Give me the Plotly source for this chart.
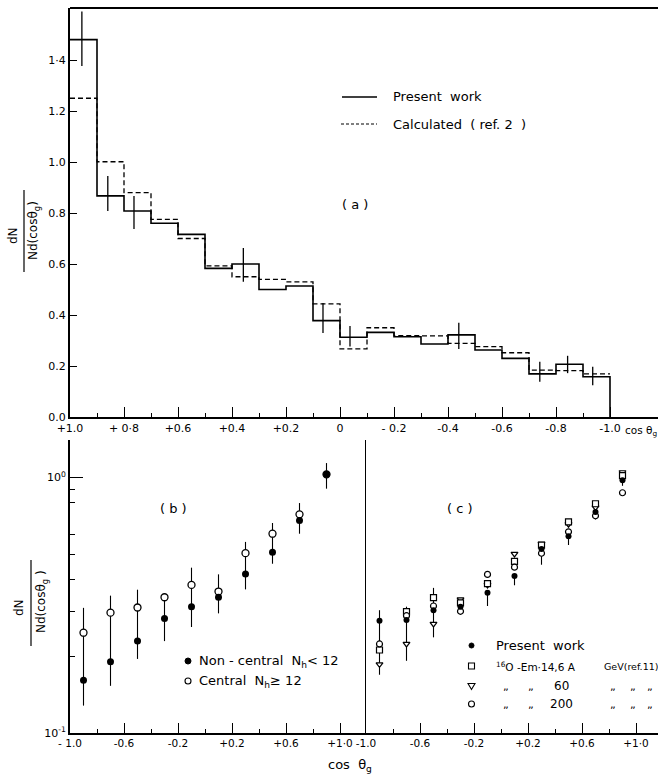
import plotly.graph_objects as go

# ---------------- data ----------------
# panel (a): histogram bin edges (cos theta_g) and values
bin_edges = [1.0, 0.9, 0.8, 0.7, 0.6, 0.5, 0.4, 0.3, 0.2, 0.1, 0.0,
             -0.1, -0.2, -0.3, -0.4, -0.5, -0.6, -0.7, -0.8, -0.9, -1.0]
present_work = [1.48, 0.867, 0.808, 0.76, 0.716, 0.583, 0.60, 0.50, 0.514, 0.378,
                0.313, 0.332, 0.315, 0.286, 0.322, 0.263, 0.23, 0.169, 0.207, 0.158]
calculated = [1.25, 1.001, 0.88, 0.775, 0.70, 0.593, 0.55, 0.54, 0.53, 0.444,
              0.267, 0.35, 0.319, 0.318, 0.289, 0.276, 0.252, 0.184, 0.182, 0.169]
a_err_x = [0.956, 0.86, 0.763, 0.358, 0.063, -0.037, -0.44, -0.74, -0.843, -0.936]
a_err_lo = [1.376, 0.808, 0.737, 0.53, 0.329, 0.276, 0.267, 0.138, 0.172, 0.125]
a_err_hi = [1.59, 0.945, 0.867, 0.663, 0.447, 0.357, 0.37, 0.217, 0.24, 0.197]

# panel (b)
b_x = [-0.9, -0.7, -0.5, -0.3, -0.1, 0.1, 0.3, 0.5, 0.7, 0.9]
b_noncentral = [0.161, 0.190, 0.229, 0.281, 0.312, 0.34, 0.419, 0.51, 0.68, 1.03]
b_central = [0.247, 0.296, 0.31, 0.34, 0.38, 0.358, 0.506, 0.603, 0.718, 1.03]
b_err_lo = [0.128, 0.153, 0.195, 0.229, 0.26, 0.294, 0.365, 0.46, 0.603, 0.905]
b_err_hi = [0.309, 0.345, 0.364, 0.345, 0.444, 0.418, 0.56, 0.664, 0.795, 1.14]

# panel (c)
c_x = [-0.9, -0.7, -0.5, -0.3, -0.1, 0.1, 0.3, 0.5, 0.7, 0.9]
c_present = [0.278, 0.280, 0.306, 0.316, 0.359, 0.418, 0.534, 0.60, 0.749, 1.0]
c_14_6 = [0.213, 0.302, 0.343, 0.327, 0.39, 0.477, 0.554, 0.684, 0.807, 1.043]
c_60 = [0.187, 0.225, 0.27, 0.338, 0.385, 0.511, 0.56, 0.67, 0.78, 1.075]
c_200 = [0.225, 0.291, 0.318, 0.303, 0.424, 0.453, 0.514, 0.625, 0.723, 0.892]
c_err_lo = [0.170, 0.193, 0.239, 0.30, 0.318, 0.384, 0.463, 0.554, 0.70, 0.95]
c_err_hi = [0.306, 0.316, 0.375, 0.33, 0.36, 0.42, 0.535, 0.60, 0.75, 1.0]

# tick labels
a_xtickvals = [1.0, 0.8, 0.6, 0.4, 0.2, 0.0, -0.2, -0.4, -0.6, -0.8, -1.0]
a_xticktext = ["+1.0", "+ 0·8", "+0.6", "+0.4", "+0.2", "0", "- 0.2", "-0.4", "-0.6", "-0.8", "-1.0"]
a_xminor = [0.9, 0.7, 0.5, 0.3, 0.1, -0.1, -0.3, -0.5, -0.7, -0.9]
a_ytickvals = [0.0, 0.2, 0.4, 0.6, 0.8, 1.0, 1.2, 1.4]
a_yticktext = ["0.0", "0.2", "0.4", "0.6", "0.8", "1.0", "1.2", "1·4"]
bc_xtickvals = [-1.0, -0.6, -0.2, 0.2, 0.6, 1.0]
b_xticktext = ["- 1.0", "-0.6", "-0.2", "+0.2", "+0.6", "+1·0"]
c_xticktext = ["-1.0", "-0.6", "-0.2", "+0.2", "+0.6", "+1·0"]
bc_xminor = [-0.8, -0.4, 0.0, 0.4, 0.8]
log_tickvals = [0.1, 1.0]
log_ticktext = ["10<sup>-1</sup>", "10<sup>0</sup>"]
log_minor = [0.2, 0.3, 0.4, 0.5, 0.6, 0.8, 0.9]

FONT = "DejaVu Sans"
W, H = 658, 774
L, R, T, B = 70, 0, 8, 41
PW, PH = W - L - R, H - T - B


def px(x):
    return (x - L) / PW


def py(y):
    return (H - B - y) / PH


def segs(xs, lo, hi):
    sx, sy = [], []
    for x, a, b in zip(xs, lo, hi):
        sx += [x, x, None]
        sy += [a, b, None]
    return sx, sy


fig = go.Figure()

# ---- panel (a)
fig.add_trace(go.Scatter(x=bin_edges + [bin_edges[-1]],
                         y=present_work + [present_work[-1], 0],
                         mode="lines", line=dict(color="black", width=1.6, shape="hv"),
                         xaxis="x", yaxis="y", showlegend=False))
fig.add_trace(go.Scatter(x=bin_edges, y=calculated + [calculated[-1]],
                         mode="lines", line=dict(color="black", width=1.3, shape="hv", dash="5px,3px"),
                         xaxis="x", yaxis="y", showlegend=False))
ex, ey = segs(a_err_x, a_err_lo, a_err_hi)
fig.add_trace(go.Scatter(x=ex, y=ey, mode="lines", line=dict(color="black", width=1.3),
                         xaxis="x", yaxis="y", showlegend=False))

# ---- panel (b)
ex, ey = segs(b_x, b_err_lo, b_err_hi)
fig.add_trace(go.Scatter(x=ex, y=ey, mode="lines", line=dict(color="black", width=1.1),
                         xaxis="x2", yaxis="y2", showlegend=False))
fig.add_trace(go.Scatter(x=b_x, y=b_central, mode="markers",
                         marker=dict(symbol="circle", size=7, color="white",
                                     line=dict(color="black", width=1.3)),
                         xaxis="x2", yaxis="y2", showlegend=False))
fig.add_trace(go.Scatter(x=b_x, y=b_noncentral, mode="markers",
                         marker=dict(symbol="circle", size=7, color="black"),
                         xaxis="x2", yaxis="y2", showlegend=False))

# ---- panel (c)
ex, ey = segs(c_x, c_err_lo, c_err_hi)
fig.add_trace(go.Scatter(x=ex, y=ey, mode="lines", line=dict(color="black", width=1.1),
                         xaxis="x3", yaxis="y3", showlegend=False))
for vals, sym in [(c_60, "triangle-down"), (c_14_6, "square"), (c_200, "circle")]:
    fig.add_trace(go.Scatter(x=c_x, y=vals, mode="markers",
                             marker=dict(symbol=sym, size=6, color="white",
                                         line=dict(color="black", width=1.2)),
                             xaxis="x3", yaxis="y3", showlegend=False))
fig.add_trace(go.Scatter(x=c_x, y=c_present, mode="markers",
                         marker=dict(symbol="circle", size=6, color="black"),
                         xaxis="x3", yaxis="y3", showlegend=False))

tickfont = dict(family=FONT, size=11, color="black")
btickfont = dict(family=FONT, size=10.5, color="black")
common = dict(showgrid=False, zeroline=False, showline=True, linecolor="black",
              ticks="inside", tickcolor="black")

ya_bottom = py(417)
yb_top = py(440)
xsplit = px(366)

fig.update_layout(
    width=W, height=H, margin=dict(l=L, r=R, t=T, b=B),
    paper_bgcolor="white", plot_bgcolor="white", showlegend=False,
    font=dict(family=FONT, size=12, color="black"),
    xaxis=dict(domain=[0, 1], anchor="y", range=[1.0, 1.0 - PW / 270.0],
               tickmode="array", tickvals=a_xtickvals, ticktext=a_xticktext,
               ticklen=10, tickwidth=1.4, linewidth=2, tickfont=tickfont,
               minor=dict(tickmode="array", tickvals=a_xminor, ticklen=4, tickwidth=1.2,
                          ticks="inside", tickcolor="black"), **common),
    yaxis=dict(domain=[ya_bottom, 1], anchor="x", range=[0, (417 - 8) / 255.0],
               tickmode="array", tickvals=a_ytickvals, ticktext=a_yticktext,
               ticklen=7, tickwidth=1.4, linewidth=2, tickfont=tickfont, **common),
    xaxis2=dict(domain=[0, xsplit], anchor="y2", range=[-1.0, -1.0 + 296 / 135.0],
                tickmode="array", tickvals=bc_xtickvals, ticktext=b_xticktext,
                ticklen=10, tickwidth=1.4, linewidth=1.6, tickfont=btickfont,
                minor=dict(tickmode="array", tickvals=bc_xminor, ticklen=4, tickwidth=1.2,
                           ticks="inside", tickcolor="black"), **common),
    yaxis2=dict(domain=[0, yb_top], anchor="x2", type="log",
                range=[-1, -1 + (733 - 440) / 255.4],
                tickmode="array", tickvals=log_tickvals, ticktext=log_ticktext,
                ticklen=13, tickwidth=1.4, linewidth=1.6, tickfont=tickfont,
                minor=dict(tickmode="array", tickvals=log_minor, ticklen=5, tickwidth=1.2,
                           ticks="inside", tickcolor="black"), **common),
    xaxis3=dict(domain=[xsplit, 1], anchor="y3", range=[-1.0, -1.0 + 292 / 135.0],
                tickmode="array", tickvals=bc_xtickvals, ticktext=c_xticktext,
                ticklen=10, tickwidth=1.4, linewidth=1.6, tickfont=btickfont,
                minor=dict(tickmode="array", tickvals=bc_xminor, ticklen=4, tickwidth=1.2,
                           ticks="inside", tickcolor="black"), **common),
    yaxis3=dict(domain=[0, yb_top], anchor="x3", type="log",
                range=[-1, -1 + (733 - 437) / 255.4],
                showticklabels=False, showgrid=False, zeroline=False, showline=True,
                linecolor="black", linewidth=1.4, ticks=""),
)

shapes = []
# top frame line of panel (a)
shapes.append(dict(type="line", xref="paper", yref="paper", x0=0, x1=1, y0=1, y1=1,
                   line=dict(color="black", width=2.2)))
# legend samples (a)
shapes.append(dict(type="line", xref="paper", yref="paper", x0=px(342), x1=px(377),
                   y0=py(97), y1=py(97), line=dict(color="black", width=1.6)))
shapes.append(dict(type="line", xref="paper", yref="paper", x0=px(341), x1=px(377),
                   y0=py(124), y1=py(124), line=dict(color="black", width=1.2, dash="3px,2px")))
# fraction bars for y-axis titles
shapes.append(dict(type="line", xref="paper", yref="paper", x0=px(24), x1=px(24),
                   y0=py(190), y1=py(272), line=dict(color="black", width=1.2)))
shapes.append(dict(type="line", xref="paper", yref="paper", x0=px(31), x1=px(31),
                   y0=py(560), y1=py(646), line=dict(color="black", width=1.2)))
# legend symbols (b)
shapes.append(dict(type="circle", xref="paper", yref="paper", x0=px(185), x1=px(191),
                   y0=py(658), y1=py(664), fillcolor="black", line=dict(color="black", width=1)))
shapes.append(dict(type="circle", xref="paper", yref="paper", x0=px(185), x1=px(191),
                   y0=py(678), y1=py(684), fillcolor="white", line=dict(color="black", width=1.1)))
# legend symbols (c)
shapes.append(dict(type="circle", xref="paper", yref="paper", x0=px(469), x1=px(474),
                   y0=py(643), y1=py(648), fillcolor="black", line=dict(color="black", width=1)))
shapes.append(dict(type="rect", xref="paper", yref="paper", x0=px(468.5), x1=px(474.5),
                   y0=py(663), y1=py(669), fillcolor="white", line=dict(color="black", width=1.1)))
shapes.append(dict(type="path", xref="paper", yref="paper",
                   path="M %f,%f L %f,%f L %f,%f Z" % (px(468), py(683.5), px(475), py(683.5),
                                                      px(471.5), py(689.5)),
                   fillcolor="white", line=dict(color="black", width=1.1)))
shapes.append(dict(type="circle", xref="paper", yref="paper", x0=px(468.5), x1=px(474.5),
                   y0=py(701), y1=py(707), fillcolor="white", line=dict(color="black", width=1.1)))
fig.update_layout(shapes=shapes)

ann = []


def txt(x, y, s, size=12, xanchor="left", angle=0):
    ann.append(dict(xref="paper", yref="paper", x=px(x), y=py(y), text=s, showarrow=False,
                    xanchor=xanchor, yanchor="middle", textangle=angle,
                    font=dict(family=FONT, size=size, color="black")))


txt(391, 97, "Present  work", 13)
txt(391, 124, "Calculated  ( ref. 2  )", 13)
txt(355, 205, "( a )", 13, "center")
txt(623, 431, "cos θ<sub>g</sub>", 10.5)
txt(173, 508, "( b )", 13, "center")
txt(460, 508, "( c )", 13, "center")
txt(350, 765, "cos  θ<sub>g</sub>", 13, "center")

# y titles (fractions)
txt(13, 236, "dN", 12, "center", -90)
txt(34, 231, "Nd(cosθ<sub>g</sub>)", 12, "center", -90)
txt(19, 608, "dN", 12, "center", -90)
txt(42, 602, "Nd(cosθ<sub>g</sub> )", 12, "center", -90)

# legend (b) text
txt(197, 661, "Non - central  N<sub>h</sub>&lt; 12", 13)
txt(197, 681, "Central  N<sub>h</sub>≥ 12", 13)

# legend (c) text
txt(494, 645, "Present  work", 13)
txt(494, 666, "<sup>16</sup>O -Em·14,6 A", 10.5)
txt(602, 666, "GeV(ref.11)", 9.5)
for xx in [506, 531, 613, 633, 650]:
    txt(xx, 686, "\u201e", 11, "center")
    txt(xx, 704, "\u201e", 11, "center")
txt(561, 686, "60", 12, "center")
txt(561, 704, "200", 12, "center")

fig.update_layout(annotations=ann)

fig.write_html("out.html", config={"displayModeBar": False},
               post_script="document.body.style.margin='0px';document.body.style.overflow='hidden';")
